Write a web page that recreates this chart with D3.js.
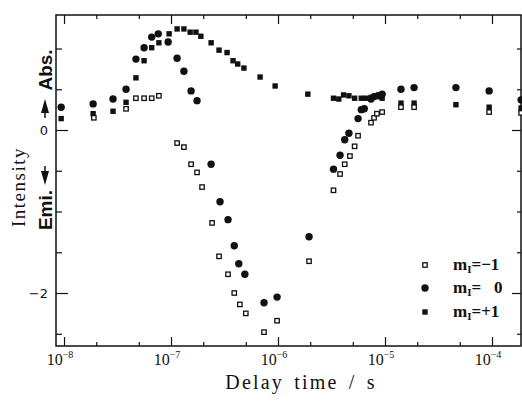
<!DOCTYPE html>
<html>
<head>
<meta charset="utf-8">
<script src="https://cdn.jsdelivr.net/npm/d3@7"></script>
<style>
  body { margin: 0; background: #fff; }
  svg { display: block; }
  text { font-family: "Liberation Serif", "DejaVu Serif", serif; fill: #111; }
</style>
</head>
<body>
<svg id="chart" width="522" height="401"></svg>
<script>
// delay time (s) and intensity for each m_I series
const tMinus = [1.9e-8, 3.8e-8, 4.7e-8, 5.6e-8, 6.6e-8, 7.7e-8, 1.14e-7, 1.32e-7, 1.54e-7, 1.75e-7,
  1.95e-7, 2.42e-7, 2.81e-7, 3.41e-7, 3.9e-7, 4.4e-7, 5.0e-7, 7.4e-7, 9.8e-7, 1.95e-6,
  3.3e-6, 3.8e-6, 4.2e-6, 4.7e-6, 5.2e-6, 5.6e-6, 7.4e-6, 7.9e-6, 8.4e-6, 9.4e-6,
  1.41e-5, 1.87e-5, 9.4e-5, 1.87e-4];
const iMinus = [0.15, 0.26, 0.39, 0.39, 0.39, 0.42, -0.16, -0.21, -0.42, -0.52,
  -0.70, -1.14, -1.55, -1.77, -2.0, -2.14, -2.25, -2.48, -2.34, -1.61,
  -0.74, -0.54, -0.42, -0.32, -0.20, -0.07, 0.09, 0.15, 0.20, 0.22,
  0.28, 0.28, 0.22, 0.21];

const tZero = [9.4e-9, 1.87e-8, 2.87e-8, 3.8e-8, 4.7e-8, 5.6e-8, 6.6e-8, 7.6e-8, 9.4e-8, 1.14e-7,
  1.32e-7, 1.54e-7, 1.75e-7, 2.37e-7, 2.87e-7, 3.41e-7, 3.9e-7, 4.3e-7, 4.9e-7, 7.4e-7,
  9.8e-7, 1.95e-6, 3.3e-6, 3.8e-6, 4.2e-6, 4.6e-6, 5.6e-6, 6.0e-6, 6.4e-6, 7.4e-6,
  7.9e-6, 8.6e-6, 9.4e-6, 1.41e-5, 1.87e-5, 4.6e-5, 9.4e-5, 1.87e-4];
const iZero = [0.28, 0.32, 0.38, 0.50, 0.87, 1.01, 1.14, 1.18, 1.08, 0.88,
  0.72, 0.48, 0.36, -0.42, -0.88, -1.10, -1.42, -1.64, -1.77, -2.12,
  -2.05, -1.31, -0.48, -0.31, -0.12, -0.04, 0.14, 0.25, 0.26, 0.38,
  0.41, 0.42, 0.44, 0.50, 0.52, 0.52, 0.48, 0.37];

const tPlus = [9.4e-9, 1.87e-8, 2.87e-8, 3.8e-8, 4.7e-8, 5.6e-8, 6.6e-8, 7.7e-8, 9.6e-8, 1.14e-7,
  1.32e-7, 1.51e-7, 1.71e-7, 1.9e-7, 2.37e-7, 2.81e-7, 3.34e-7, 3.8e-7, 4.2e-7, 4.8e-7,
  6.8e-7, 9.4e-7, 1.9e-6, 3.3e-6, 3.7e-6, 4.1e-6, 4.6e-6, 5.2e-6, 6.0e-6, 6.6e-6,
  7.4e-6, 8.2e-6, 9.4e-6, 1.41e-5, 1.87e-5, 4.6e-5, 9.4e-5, 1.87e-4];
const iPlus = [0.14, 0.20, 0.23, 0.34, 0.64, 0.85, 1.01, 1.07, 1.18, 1.24,
  1.24, 1.20, 1.20, 1.15, 1.07, 0.98, 0.95, 0.85, 0.81, 0.76,
  0.65, 0.54, 0.44, 0.39, 0.38, 0.43, 0.42, 0.39, 0.39, 0.39,
  0.40, 0.42, 0.39, 0.33, 0.33, 0.31, 0.28, 0.27];

const decades = [1e-8, 1e-7, 1e-6, 1e-5, 1e-4];
const decadeExp = ["-8", "-7", "-6", "-5", "-4"];
const yTicks = [-2.5, -2, -1.5, -1, -0.5, 0, 0.5, 1];
const yLabels = [0, -2];
const legendLabels = ["=\u22121", "=\u2002 0", "=+1"];

const svg = d3.select("#chart");
const pLeft = 56, pRight = 521, pTop = 15, pBottom = 346;

const x = d3.scaleLog().domain([Math.pow(10, -8.075), Math.pow(10, -3.729)]).range([pLeft, pRight]);
const y = d3.scaleLinear().domain([-2.65, 1.411]).range([pBottom, pTop]);

const minors = [];
decades.forEach((d) => { minors.push(d * 2, d * 5); });
const minorsIn = minors.filter((v) => x(v) < pRight);

function tickLayer(axis, tr) {
  const g = svg.append("g").attr("transform", tr).call(axis);
  g.selectAll("text").remove();
  g.selectAll("line").attr("stroke", "#111").attr("stroke-width", 1.2);
  g.select(".domain").remove();
  return g;
}

// x ticks, bottom and top, pointing inward
tickLayer(d3.axisBottom(x).tickValues(decades).tickSize(-9), `translate(0,${pBottom})`);
tickLayer(d3.axisBottom(x).tickValues(minorsIn).tickSize(-4), `translate(0,${pBottom})`);
tickLayer(d3.axisTop(x).tickValues(decades).tickSize(-9), `translate(0,${pTop})`);
tickLayer(d3.axisTop(x).tickValues(minorsIn).tickSize(-4), `translate(0,${pTop})`);

// y ticks, left and right
const yMinor = yTicks.filter((v) => !yLabels.includes(v));
tickLayer(d3.axisLeft(y).tickValues(yLabels).tickSize(-12), `translate(${pLeft},0)`);
tickLayer(d3.axisLeft(y).tickValues(yMinor).tickSize(-6), `translate(${pLeft},0)`);
tickLayer(d3.axisRight(y).tickValues(yLabels).tickSize(-9), `translate(${pRight},0)`);
tickLayer(d3.axisRight(y).tickValues(yMinor).tickSize(-4), `translate(${pRight},0)`);

// frame
svg.append("rect")
  .attr("x", pLeft).attr("y", pTop)
  .attr("width", pRight - pLeft).attr("height", pBottom - pTop)
  .attr("fill", "none").attr("stroke", "#111").attr("stroke-width", 1.5);

// x tick labels with superscripts
decades.forEach((d, i) => {
  const t = svg.append("text")
    .attr("x", x(d) - 4).attr("y", pBottom + 19)
    .attr("text-anchor", "middle")
    .style("font-size", "16px");
  t.append("tspan").text("10");
  t.append("tspan").attr("dy", -7).style("font-size", "10px").text("\u2212" + decadeExp[i].slice(1));
});

// y tick labels
yLabels.forEach((v) => {
  svg.append("text")
    .attr("x", pLeft - 8).attr("y", y(v) + 5)
    .attr("text-anchor", "end")
    .style("font-family", "'DejaVu Sans', sans-serif")
    .style("font-size", "13px")
    .text(v < 0 ? "\u2212" + Math.abs(v) : v);
});

// axis titles
svg.append("text")
  .attr("x", 301).attr("y", 389)
  .attr("text-anchor", "middle")
  .style("font-size", "20px")
  .style("letter-spacing", "2.2px")
  .style("word-spacing", "3px")
  .text("Delay time / s");

svg.append("text")
  .attr("transform", "translate(25,187) rotate(-90)")
  .attr("text-anchor", "middle")
  .style("font-size", "19px")
  .style("letter-spacing", "1.5px")
  .text("Intensity");

svg.append("text")
  .attr("transform", "translate(52,70) rotate(-90)")
  .attr("text-anchor", "middle")
  .style("font-family", "'Liberation Sans', Arial, sans-serif")
  .style("font-weight", "bold")
  .style("font-size", "19px")
  .text("Abs.");

svg.append("text")
  .attr("transform", "translate(52,210) rotate(-90)")
  .attr("text-anchor", "middle")
  .style("font-family", "'Liberation Sans', Arial, sans-serif")
  .style("font-weight", "bold")
  .style("font-size", "19px")
  .text("Emi.");

// arrows
svg.append("path").attr("d", "M45,113 L45,118").attr("stroke", "#111").attr("stroke-width", 1.5);
svg.append("path").attr("d", "M41,113 L49,113 L45,99 Z").attr("fill", "#111");
svg.append("path").attr("d", "M45,166 L45,171").attr("stroke", "#111").attr("stroke-width", 1.5);
svg.append("path").attr("d", "M41,171 L49,171 L45,185 Z").attr("fill", "#111");

// markers
const sym = {
  open: (g) => g.append("rect").attr("x", -2.2).attr("y", -2.2).attr("width", 4.4).attr("height", 4.4)
    .attr("fill", "#fff").attr("stroke", "#111").attr("stroke-width", 1.3),
  circle: (g) => g.append("circle").attr("r", 3.7).attr("fill", "#111"),
  square: (g) => g.append("rect").attr("x", -2.7).attr("y", -2.7).attr("width", 5.4).attr("height", 5.4)
    .attr("fill", "#111"),
};

function drawSeries(ts, vs, kind) {
  const pts = ts.map((t, i) => ({ t: t, v: vs[i] }));
  svg.append("g").selectAll("g")
    .data(pts)
    .enter()
    .append("g")
    .attr("transform", (d) => `translate(${x(d.t)},${y(d.v)})`)
    .each(function () { sym[kind](d3.select(this)); });
}

drawSeries(tPlus, iPlus, "square");
drawSeries(tZero, iZero, "circle");
drawSeries(tMinus, iMinus, "open");

// legend
const kinds = ["open", "circle", "square"];
const legY = [265, 288, 312];
kinds.forEach((k, i) => {
  sym[k](svg.append("g").attr("transform", `translate(425,${legY[i]})`));
  const t = svg.append("text").attr("x", 453).attr("y", legY[i] + 5)
    .style("font-size", "17px").style("font-weight", "bold");
  t.append("tspan").text("m");
  t.append("tspan").attr("dy", 3).style("font-size", "11px").text("I");
  t.append("tspan").attr("dy", -3).text(legendLabels[i]);
});
</script>
</body>
</html>
